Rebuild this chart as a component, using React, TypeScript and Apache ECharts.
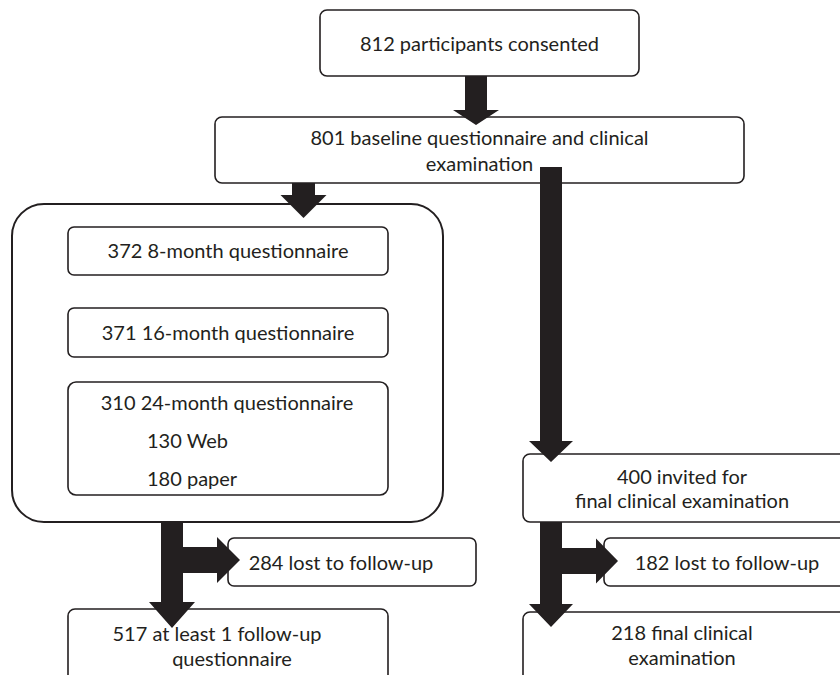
import React, { useEffect, useRef } from "react";
import * as echarts from "echarts";

// ---- data: participant counts and stage descriptions ("|" = line break) ----
const counts = [812, 801, 372, 371, 310, 130, 180, 284, 517, 400, 182, 218];
const descriptions = [
  "participants consented",
  "baseline questionnaire and clinical|examination",
  "8-month questionnaire",
  "16-month questionnaire",
  "24-month questionnaire",
  "Web",
  "paper",
  "lost to follow-up",
  "at least 1 follow-up|questionnaire",
  "invited for|final clinical examination",
  "lost to follow-up",
  "final clinical|examination",
];

// ---- layout (positions only) ----
// boxes: x, y, w, h, radius, lineWidth
const boxLayout: number[][] = [
  [320, 10, 319, 66, 7, 1.6],
  [215, 117, 529, 66, 7, 1.6],
  [12, 204, 431, 318, 32, 2],
  [68, 227, 320, 48, 6, 1.6],
  [68, 308, 320, 49, 6, 1.6],
  [68, 382, 320, 113, 8, 1.6],
  [228, 538, 248, 48, 6, 1.6],
  [68, 609, 320, 90, 7, 1.6],
  [523, 454, 330, 68, 7, 1.6],
  [604, 538, 250, 48, 6, 1.6],
  [523, 612, 330, 90, 7, 1.6],
];
// text lines per description index: [x, y, align]
const textLayout: [number, number, string][][] = [
  [[479.5, 43, "center"]],
  [[479.5, 137, "center"], [479.5, 163, "center"]],
  [[228, 250, "center"]],
  [[228, 332, "center"]],
  [[227, 402, "center"]],
  [[147, 440, "left"]],
  [[147, 478, "left"]],
  [[341, 562, "center"]],
  [[217, 633, "center"], [232, 658, "center"]],
  [[682, 476, "center"], [682, 500, "center"]],
  [[727, 562, "center"]],
  [[682, 632, "center"], [682, 657, "center"]],
];
// down arrows: cx, yStart, headStart, tip, shaftW, headW
const downArrows: number[][] = [
  [476, 76, 110, 125, 22, 46],
  [303.5, 183, 195, 218, 23, 46],
  [551, 167, 441, 462, 22, 44],
  [172, 522, 602, 628, 22, 46],
  [551, 522, 604, 627, 22, 44],
];
// right arrows: cy, xStart, headStart, tip, shaftH, headH
const rightArrows: number[][] = [
  [560, 183, 217, 240, 26, 46],
  [561, 562, 596, 618, 26, 45],
];

const INK = "#231f20";
const FONT = "Lato";

function downArrow(a: number[]) {
  const [cx, y0, yh, yt, sw, hw] = a;
  return [
    [cx - sw / 2, y0],
    [cx + sw / 2, y0],
    [cx + sw / 2, yh],
    [cx + hw / 2, yh],
    [cx, yt],
    [cx - hw / 2, yh],
    [cx - sw / 2, yh],
  ];
}
function rightArrow(a: number[]) {
  const [cy, x0, xh, xt, sh, hh] = a;
  return [
    [x0, cy - sh / 2],
    [xh, cy - sh / 2],
    [xh, cy - hh / 2],
    [xt, cy],
    [xh, cy + hh / 2],
    [xh, cy + sh / 2],
    [x0, cy + sh / 2],
  ];
}

export default function App() {
  const ref = useRef<HTMLDivElement>(null);
  useEffect(() => {
    document.body.style.margin = "0";
    if (!ref.current) return;
    const chart = echarts.init(ref.current, null, { renderer: "svg" });

    const elements: any[] = [];
    boxLayout.forEach(([x, y, w, h, r, lw]) => {
      elements.push({
        type: "rect",
        shape: { x, y, width: w, height: h, r },
        style: { fill: "#fff", stroke: INK, lineWidth: lw },
        z: 1,
      });
    });
    descriptions.forEach((d, i) => {
      const lines = d.split("|");
      lines[0] = `${counts[i]} ${lines[0]}`;
      lines.forEach((line, j) => {
        const [x, y, align] = textLayout[i][j];
        elements.push({
          type: "text",
          x,
          y,
          z: 3,
          style: {
            text: line,
            fill: INK,
            font: `20px ${FONT}`,
            align,
            verticalAlign: "middle",
          },
        });
      });
    });
    downArrows.forEach((a) => {
      elements.push({
        type: "polygon",
        shape: { points: downArrow(a) },
        style: { fill: INK },
        z: 5,
      });
    });
    rightArrows.forEach((a) => {
      elements.push({
        type: "polygon",
        shape: { points: rightArrow(a) },
        style: { fill: INK },
        z: 5,
      });
    });

    chart.setOption({
      animation: false,
      backgroundColor: "#fff",
      graphic: { elements },
    });
    return () => chart.dispose();
  }, []);
  return (
    <div
      ref={ref}
      style={{ position: "absolute", left: 0, top: 0, width: 840, height: 675 }}
    />
  );
}
